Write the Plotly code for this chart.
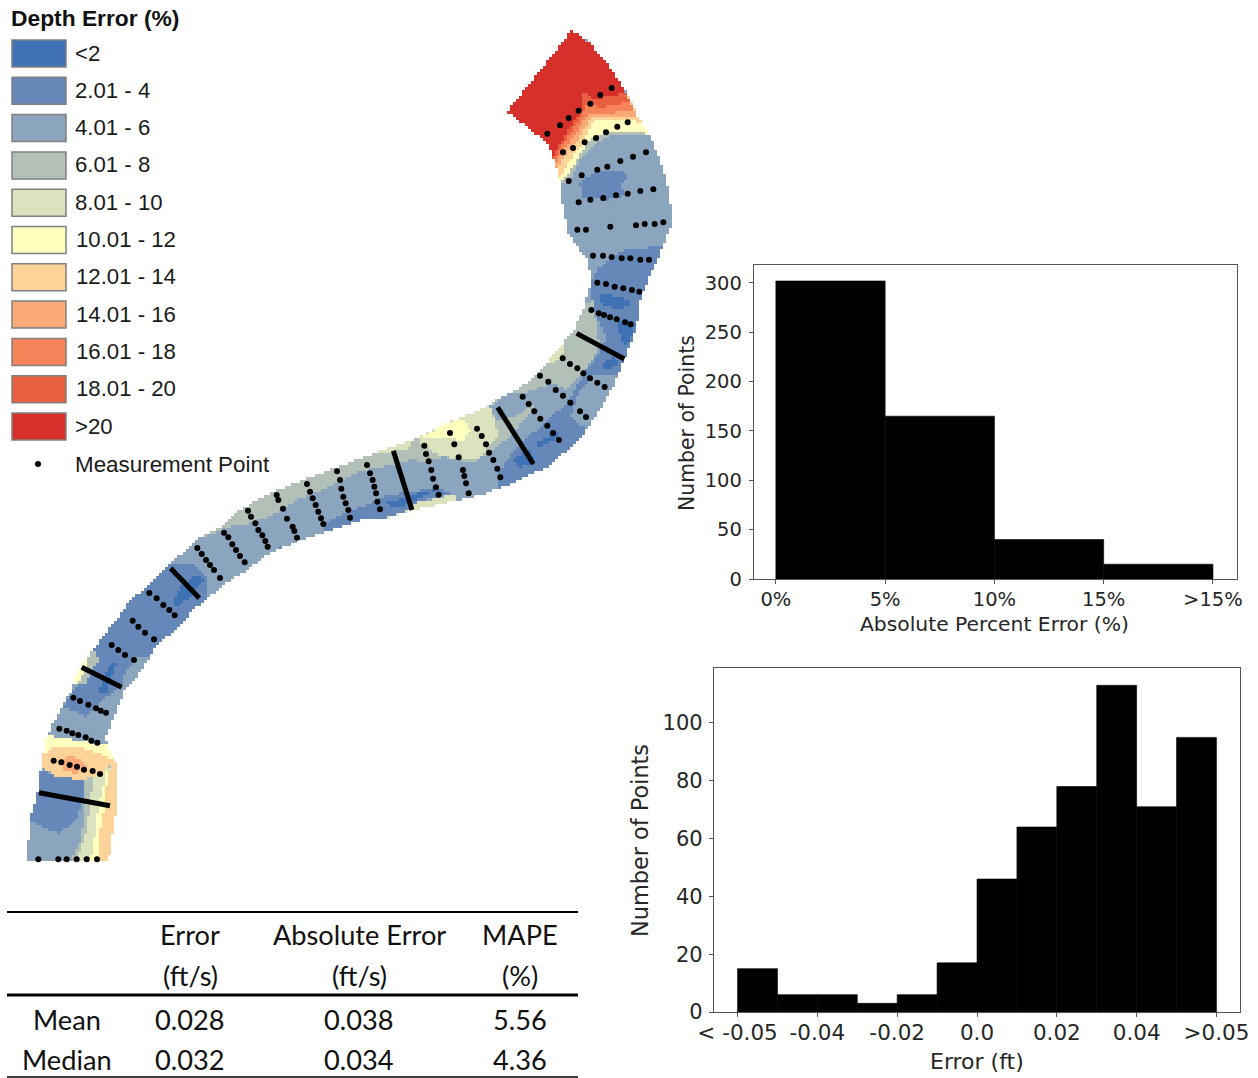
import numpy as np
import plotly.graph_objects as go

W, H = 1258, 1078

# ---------- histogram data ----------
ape_edges = [0, 5, 10, 15, 20]
ape_counts = [302, 165, 40, 15]
ape_tick_vals = [0, 5, 10, 15, 20]
ape_tick_text = ["0%", "5%", "10%", "15%", ">15%"]
ape_y_ticks = [0, 50, 100, 150, 200, 250, 300]

err_edges = [-0.06, -0.05, -0.04, -0.03, -0.02, -0.01, 0.0, 0.01, 0.02, 0.03, 0.04, 0.05, 0.06]
err_counts = [15, 6, 6, 3, 6, 17, 46, 64, 78, 113, 71, 95]
err_tick_vals = [-0.06, -0.04, -0.02, 0.0, 0.02, 0.04, 0.06]
err_tick_text = ["< -0.05", "-0.04", "-0.02", "0.0", "0.02", "0.04", ">0.05"]
err_y_ticks = [0, 20, 40, 60, 80, 100]

# ---------- table ----------
table_header_1 = ["", "Error", "Absolute Error", "MAPE"]
table_header_2 = ["", "(ft/s)", "(ft/s)", "(%)"]
table_mean = ["Mean", "0.028", "0.038", "5.56"]
table_median = ["Median", "0.032", "0.034", "4.36"]

# ---------- legend ----------
legend_title = "Depth Error (%)"
class_labels = ["<2", "2.01 - 4", "4.01 - 6", "6.01 - 8", "8.01 - 10", "10.01 - 12",
                "12.01 - 14", "14.01 - 16", "16.01 - 18", "18.01 - 20", ">20"]
class_colors = ["#3F72B5", "#6688B8", "#8CA5BE", "#B3C0B8", "#DBE2BE", "#FFFFBE",
                "#FDD39A", "#FBAA78", "#F58357", "#E8603F", "#D7302A"]
C2, C4, C6, C8, C10, C12, C14, C16, C18, C20, C99 = range(11)


def z2(p): return [(480 + x / 3, 20 + y / 3) for x, y in p]
def z3(p): return [(380 + x / 3, 260 + y / 3) for x, y in p]
def z4(p): return [(130 + x / 3, 430 + y / 3) for x, y in p]
def z5(p): return [(10 + x / 3, 620 + y / 3) for x, y in p]


# ---------- river outline (map units) ----------
river_outline = [(572, 30), (507, 112), (548, 143), (555, 162), (560, 182), (563, 207), (568, 233), (587, 260),
                 (592, 280), (588, 293), (583, 310), (573, 332), (557, 350), (540, 372), (520, 388), (497, 400),
                 (473, 413), (447, 423), (420, 437), (397, 445), (370, 455), (337, 467), (303, 480), (270, 493),
                 (240, 510), (220, 527), (200, 538), (180, 555), (163, 570), (140, 593), (130, 600), (117, 620),
                 (108, 630), (98, 643), (80, 667), (70, 693), (53, 723), (47, 737), (42, 760), (38, 790),
                 (30, 820), (27, 860), (109, 860), (113, 830), (117, 807), (117, 763), (107, 747), (106, 737),
                 (117, 710), (125, 690), (137, 677), (150, 657), (155, 647), (167, 637), (180, 627), (193, 610),
                 (205, 600), (227, 583), (247, 570), (270, 553), (297, 542), (330, 530), (363, 520), (383, 520),
                 (413, 510), (460, 500), (487, 493), (513, 483), (547, 467), (580, 440), (600, 410), (613, 387),
                 (623, 363), (637, 327), (640, 300), (647, 283), (657, 260), (663, 247), (673, 220), (667, 183),
                 (660, 160), (650, 135), (638, 117), (627, 93), (608, 65), (590, 43)]

cap_right = z2([(275, 30), (330, 70), (385, 135), (440, 220)])
cap_left = z2([(205, 370), (80, 275)])

# nested error bands at the upstream end (outermost first)
cap_bands = [
    (C8, z2([(465, 280), (495, 320), (510, 345), (400, 345), (340, 375), (300, 420), (265, 490), (240, 490), (225, 425)])),
    (C12, z2([(465, 280), (495, 320), (505, 342), (440, 332), (380, 337), (325, 362), (290, 420), (260, 470), (240, 488), (225, 425)])),
    (C14, z2([(465, 270), (482, 305), (400, 302), (335, 305), (325, 340), (300, 380), (270, 420), (245, 470), (237, 470), (225, 425)])),
    (C16, z2([(470, 290), (400, 290), (330, 295), (300, 350), (260, 400), (230, 450)])),
    (C18, z2([(460, 270), (390, 280), (325, 280), (295, 330), (250, 390), (225, 435)])),
    (C20, z2([(450, 245), (370, 262), (322, 255), (290, 310), (245, 380), (220, 420)])),
    (C99, z2([(440, 222), (395, 225), (345, 240), (310, 215), (305, 270), (270, 320), (235, 380), (215, 415)])),
]

error_zones = [
    # upper bend
    (C4, z2([(300, 490), (350, 450), (420, 450), (450, 470), (420, 500), (440, 525), (380, 540), (310, 535)])),
    (C4, [(592, 280), (598, 268), (627, 248), (670, 247)] + z3([(850, 20), (820, 70), (800, 120), (790, 200), (750, 310),
          (720, 380), (680, 450), (620, 540), (520, 640), (420, 690), (360, 690), (350, 650), (400, 570), (480, 500),
          (560, 430), (590, 380), (620, 330), (650, 290), (680, 230), (650, 170), (630, 110)])),
    (C6, z3([(600, 390), (640, 345), (730, 350), (720, 390), (680, 460), (620, 510), (570, 470)])),
    (C2, z3([(660, 100), (720, 110), (760, 130), (720, 150), (660, 130)])),
    (C2, z3([(715, 180), (770, 190), (740, 260), (720, 240)])),
    (C2, z3([(660, 320), (700, 290), (725, 310), (680, 330)])),
    (C2, z3([(400, 600), (450, 570), (465, 610), (420, 620)])),
    (C2, z3([(470, 550), (530, 520), (535, 530), (480, 565)])),
    # middle reach, sage along the outer bank
    (C8, z3([(640, 120), (590, 150), (565, 215), (515, 270), (465, 325), (405, 375), (335, 410), (265, 450), (190, 480),
             (120, 520), (0, 565), (0, 590), (80, 590), (130, 610), (190, 590), (280, 610), (350, 560), (400, 520),
             (470, 430), (560, 390), (610, 340), (660, 260), (650, 200)])),
    (C6, z3([(330, 440), (380, 400), (440, 395), (520, 370), (560, 390), (470, 430), (400, 470), (350, 480)])),
    (C10, z3([(110, 520), (190, 480), (270, 450), (330, 435), (345, 490), (355, 530), (290, 600), (240, 600), (160, 580), (125, 550)])),
    (C12, z3([(130, 530), (200, 490), (250, 475), (270, 510), (250, 545), (190, 530)])),
    (C10, z3([(515, 265), (555, 255), (545, 295), (495, 315)])),
    (C10, z3([(0, 790), (100, 770), (240, 740), (220, 700), (180, 715), (100, 725), (20, 745), (0, 750)])),
    (C4, z3([(0, 745), (20, 735), (120, 690), (170, 680), (210, 700), (100, 730), (20, 755)])),
    (C2, z3([(20, 740), (120, 695), (170, 690), (100, 725)])),
    # lower-middle reach
    (C8, z4([(190, 330), (260, 280), (320, 230), (410, 180), (510, 140), (610, 100), (710, 65), (790, 35), (840, 25),
             (840, 90), (760, 110), (690, 125), (600, 170), (500, 210), (420, 260), (340, 285), (300, 290), (250, 310)])),
    (C10, z4([(710, 65), (840, 20), (840, 55), (770, 70)])),
    (C4, z4([(575, 285), (620, 260), (700, 230), (760, 200), (840, 185), (840, 240), (760, 265), (660, 300), (600, 315)])),
    (C2, z4([(770, 215), (830, 203), (835, 225), (780, 235)])),
    (C4, z4([(440, 345), (470, 350), (450, 365)])),
    (C4, z4([(20, 490), (60, 450), (110, 410), (130, 400), (190, 400), (230, 440), (230, 510), (170, 580), (80, 675), (0, 680), (-20, 530)])),
    (C2, z4([(130, 510), (150, 470), (200, 435), (225, 450), (170, 510), (135, 530)])),
    # lower bend
    (C4, z5([(320, -20), (545, -20), (470, 50), (430, 90), (380, 110), (350, 150), (330, 200), (280, 240), (230, 290), (160, 260), (200, 200), (220, 130), (260, 70)])),
    (C2, z5([(265, 215), (300, 130), (320, 130), (290, 215)])),
    (C8, z5([(225, 110), (250, 90), (265, 120), (225, 195), (190, 190)])),
    (C12, z5([(185, 170), (225, 105), (238, 118), (205, 195)])),
    (C8, z5([(220, 470), (340, 420), (340, 580), (320, 730), (180, 730), (215, 650), (225, 560)])),
    (C10, z5([(250, 470), (340, 420), (340, 580), (320, 730), (195, 730), (225, 650), (240, 560)])),
    (C12, z5([(285, 460), (340, 420), (340, 580), (320, 730), (240, 730), (255, 640), (265, 560), (280, 500)])),
    (C14, z5([(305, 430), (340, 420), (340, 580), (320, 730), (270, 730), (268, 640), (285, 560), (290, 490)])),
    (C12, z5([(100, 345), (290, 375), (320, 415), (270, 440), (180, 480), (90, 440), (95, 380)])),
    (C14, z5([(90, 410), (130, 380), (200, 380), (280, 405), (310, 420), (280, 460), (215, 480), (140, 470), (85, 435)])),
    (C16, z5([(150, 420), (190, 405), (230, 440), (200, 460), (160, 450)])),
    (C4, z5([(80, 445), (140, 470), (220, 480), (220, 520), (210, 560), (205, 590), (150, 640), (120, 630), (60, 600), (70, 560), (70, 510)])),
]

# ---------- measurement transects ----------
dot_transects = [
    z2([(202, 341), (240, 316), (266, 294), (296, 272), (331, 251), (361, 225), (395, 204)]),
    z2([(249, 397), (279, 384), (314, 367), (348, 354), (378, 337), (412, 320), (443, 307)]),
    z2([(266, 483), (305, 466), (352, 449), (382, 440), (421, 423), (459, 410), (498, 397)]),
    z2([(296, 547), (331, 539), (370, 534), (408, 526), (443, 521), (481, 513), (520, 508)]),
    z2([(292, 629), (318, 629), (391, 620), (468, 616), (494, 612), (524, 612), (550, 607)]),
    z2([(339, 707), (369, 707), (395, 711), (425, 715), (451, 715), (481, 719), (507, 719)]),
    z3([(652, 68), (678, 72), (704, 80), (730, 85), (756, 90), (778, 95)]),
    z3([(634, 150), (656, 160), (672, 165), (690, 172), (710, 178), (735, 187), (752, 193)]),
    z3([(548, 295), (570, 312), (592, 325), (610, 340), (630, 355), (652, 368), (674, 381)]),
    z3([(480, 347), (505, 365), (527, 390), (549, 407), (571, 428), (600, 454), (618, 471)]),
    z3([(428, 410), (446, 432), (463, 454), (481, 476), (502, 497), (519, 519), (537, 540)]),
    z3([(291, 506), (305, 528), (318, 553), (327, 578), (340, 600), (352, 626), (361, 652)]),
    z3([(210, 519), (223, 553), (236, 592), (249, 630), (253, 648), (258, 670), (266, 700)]),
    z3([(133, 557), (138, 582), (146, 604), (154, 630), (159, 656), (168, 682), (176, 704)]),
    z4([(711, 105), (720, 130), (728, 150), (733, 170), (738, 190), (742, 215), (750, 238)]),
    z4([(621, 124), (630, 150), (634, 176), (640, 200), (647, 220), (655, 240), (660, 263)]),
    z4([(531, 162), (540, 185), (548, 205), (557, 225), (565, 245), (573, 265), (580, 282)]),
    z4([(440, 195), (445, 210), (459, 236), (471, 266), (488, 290), (493, 303), (501, 323)]),
    z4([(354, 242), (363, 260), (376, 280), (385, 300), (397, 316), (406, 333), (413, 350)]),
    z4([(282, 308), (295, 322), (307, 343), (318, 360), (330, 378), (344, 397)]),
    z4([(202, 354), (215, 372), (228, 390), (240, 405), (252, 420), (270, 444)]),
    z4([(58, 489), (80, 505), (100, 525), (118, 540), (134, 556)]),
    z4([(8, 572), (25, 590), (45, 608), (72, 628)]),
    z5([(305, 75), (325, 90), (345, 105), (372, 120)]),
    z5([(190, 233), (210, 243), (235, 254), (258, 265), (272, 272), (288, 278)]),
    z5([(148, 326), (170, 332), (187, 340), (205, 345), (227, 352), (244, 362), (262, 368)]),
    z5([(131, 422), (154, 427), (179, 435), (201, 440), (222, 449), (248, 453), (270, 462)]),
    z5([(85, 718), (145, 718), (170, 718), (200, 718), (230, 718), (261, 718)]),
]
dense_transects = [
    z3([(590, 220), (733, 297)]),
    z3([(353, 442), (460, 612)]),
    z3([(40, 572), (96, 750)]),
    z4([(122, 415), (208, 505)]),
    z5([(215, 142), (335, 202)]),
    z5([(87, 518), (300, 557)]),
]

fig = go.Figure()

# ---------- raster of the error map, painted from the polygons above ----------
CELL = 3
grid_x = np.arange(24, 680, CELL) + CELL / 2
grid_y = np.arange(27, 864, CELL) + CELL / 2
GX, GY = np.meshgrid(grid_x, grid_y)


def inside(points):
    px = np.array([p[0] for p in points], float)
    py = np.array([p[1] for p in points], float)
    qx, qy = np.roll(px, -1), np.roll(py, -1)
    result = np.zeros(GX.shape, bool)
    for ax, ay, bx, by in zip(px, py, qx, qy):
        if ay == by:
            continue
        crosses = (ay > GY) != (by > GY)
        result ^= crosses & (GX < (bx - ax) * (GY - ay) / (by - ay) + ax)
    return result


raster = np.full(GX.shape, np.nan)
river_mask = inside(river_outline)
raster[river_mask] = C6
for cls, pts in error_zones:
    raster[inside(pts) & river_mask] = cls
for cls, boundary in cap_bands:
    raster[inside(cap_right + boundary + cap_left) & river_mask] = cls

n = len(class_colors)
scale = []
for i, c in enumerate(class_colors):
    scale += [[i / n, c], [(i + 1) / n, c]]
fig.add_trace(go.Heatmap(x=grid_x, y=grid_y, z=raster, zmin=0, zmax=n, colorscale=scale, showscale=False,
                         hoverinfo="skip", xaxis="x", yaxis="y"))

for pts in dense_transects:
    fig.add_trace(go.Scatter(x=[p[0] for p in pts], y=[p[1] for p in pts], mode="lines",
                             line=dict(color="black", width=5), hoverinfo="skip", showlegend=False))

dx = [p[0] for t in dot_transects for p in t]
dy = [p[1] for t in dot_transects for p in t]
fig.add_trace(go.Scatter(x=dx + [38], y=dy + [464], mode="markers",
                         marker=dict(color="black", size=6), hoverinfo="skip", showlegend=False))

# histograms
fig.add_trace(go.Bar(x=[(a + b) / 2 for a, b in zip(ape_edges[:-1], ape_edges[1:])], y=ape_counts,
                     width=[b - a for a, b in zip(ape_edges[:-1], ape_edges[1:])],
                     marker=dict(color="black", line=dict(width=0.6, color="black")), xaxis="x2", yaxis="y2",
                     showlegend=False, hoverinfo="skip"))
fig.add_trace(go.Bar(x=[(a + b) / 2 for a, b in zip(err_edges[:-1], err_edges[1:])], y=err_counts,
                     width=[b - a for a, b in zip(err_edges[:-1], err_edges[1:])],
                     marker=dict(color="black", line=dict(width=0.6, color="black")), xaxis="x3", yaxis="y3",
                     showlegend=False, hoverinfo="skip"))

shapes = []
annotations = []


def label(x, y, text, size, family, color="#1a1a1a", anchor="left", bold=False, angle=0):
    annotations.append(dict(x=x, y=y, xref="x", yref="y", text=f"<b>{text}</b>" if bold else text,
                            showarrow=False, xanchor=anchor, yanchor="middle", textangle=angle,
                            font=dict(size=size, family=family, color=color), borderpad=0, borderwidth=0))


SANS = "Liberation Sans"
label(11, 17.5, legend_title, 22.8, SANS, bold=True, color="#111111")
for i, (lab, col) in enumerate(zip(class_labels, class_colors)):
    y0 = 40 + i * 37.3
    shapes.append(dict(type="rect", xref="x", yref="y", x0=12, x1=66, y0=y0, y1=y0 + 27,
                       fillcolor=col, line=dict(color="#808080", width=1.5)))
    label(75 if i < 5 or i == 10 else 76, y0 + 13, lab.replace("<", "&lt;"), 22.2, SANS)
label(75, 464, "Measurement Point", 22.4, SANS)

# table
TAB = "Lato"
col_x = [67, 190, 359, 520]
for row, y in zip([table_header_1, table_header_2, table_mean, table_median], [934.5, 975.5, 1019.5, 1059.5]):
    for cx, txt in zip(col_x, row):
        if txt:
            label(cx, y, txt, 27.2, TAB, anchor="center", color="#111111")
for y, w in zip([912, 995, 1077], [2, 3, 1.5]):
    shapes.append(dict(type="line", xref="x", yref="y", x0=7, x1=578, y0=y, y1=y, line=dict(color="black", width=w)))

DV = "DejaVu Sans"
TICKC = "#262626"
FRAME = "#555555"

# axis titles
label(994, 624, "Absolute Percent Error (%)", 20.3, DV, TICKC, "center")
label(687, 423, "Number of Points", 20.4, DV, TICKC, "center", angle=-90)
label(977, 1061, "Error (ft)", 22, DV, TICKC, "center")
label(640, 841, "Number of Points", 22.4, DV, TICKC, "center", angle=-90)


def axis(domain, rng, tickvals, ticktext, anchor, size, standoff):
    d = dict(domain=domain, range=rng, tickmode="array", tickvals=tickvals, anchor=anchor, automargin=False,
             showgrid=False, zeroline=False, showline=True, mirror=True, linecolor=FRAME, linewidth=1.3,
             ticks="outside", ticklen=4, tickwidth=1, tickcolor=FRAME, ticklabelstandoff=standoff,
             tickfont=dict(family=DV, size=size, color=TICKC))
    if ticktext:
        d["ticktext"] = ticktext
    return d


def dom_x(a, b): return [a / W, b / W]
def dom_y(top, bot): return [1 - bot / H, 1 - top / H]


layout = dict(
    width=W, height=H, autosize=False, margin=dict(l=0, r=0, t=0, b=0, pad=0),
    paper_bgcolor="white", plot_bgcolor="rgba(0,0,0,0)", barmode="overlay", showlegend=False,
    xaxis=dict(domain=[0, 1], range=[0, W], visible=False, fixedrange=True, automargin=False),
    yaxis=dict(domain=[0, 1], range=[H, 0], visible=False, fixedrange=True, automargin=False),
    xaxis2=axis(dom_x(754, 1237), [-1.0, 21.1], ape_tick_vals, ape_tick_text, "y2", 19.5, -2),
    yaxis2=axis(dom_y(265, 579), [0, 318.2], ape_y_ticks, None, "x2", 19.5, 3),
    xaxis3=axis(dom_x(714, 1240), [-0.0659, 0.0659], err_tick_vals, err_tick_text, "y3", 21.5, -3),
    yaxis3=axis(dom_y(668, 1012), [0, 119], err_y_ticks, None, "x3", 21, 2),
    shapes=shapes, annotations=annotations,
)
fig.update_layout(**layout)
fig.write_html("out.html", config=dict(displayModeBar=False),
               post_script="document.body.style.margin='0';document.body.style.overflow='hidden';")
